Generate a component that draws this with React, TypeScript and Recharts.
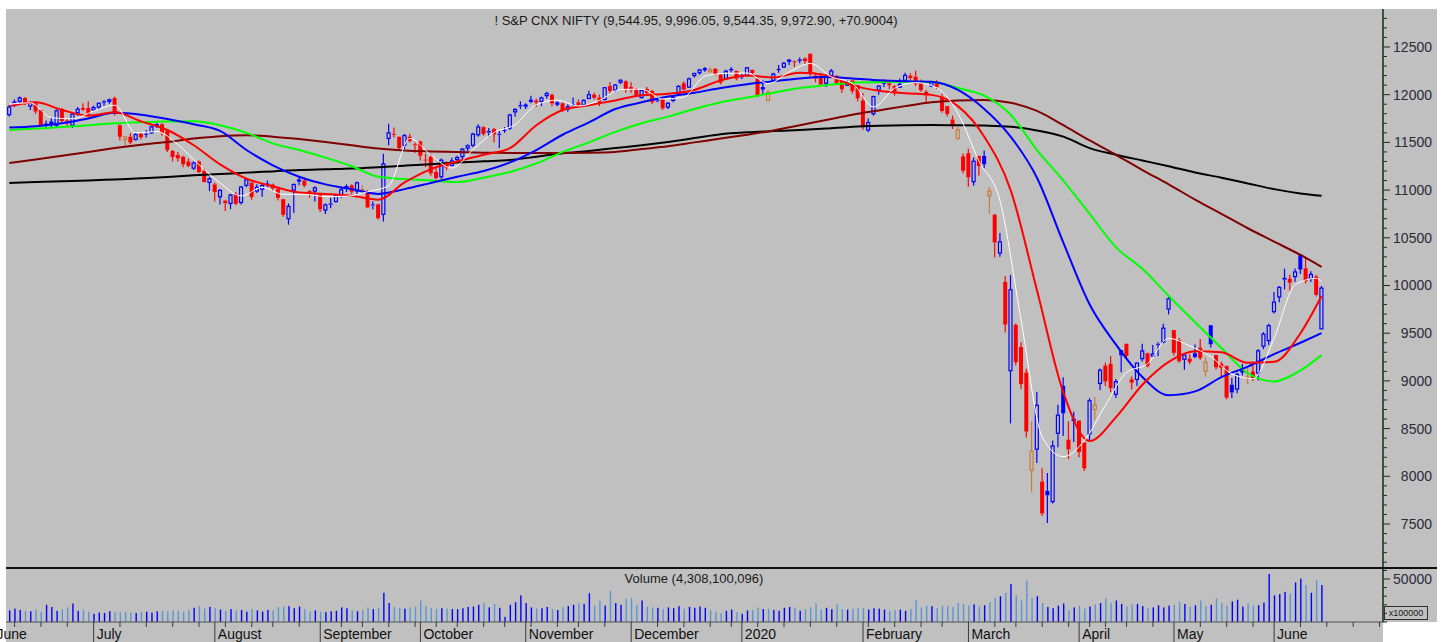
import React from 'react';
import { ComposedChart, Bar, Line, XAxis, YAxis } from 'recharts';

type OHLC = [number, number, number, number];

// ---- candles (open, high, low, close) by month ----
const candlesJun19: OHLC[] = [
  [11790, 11895, 11770, 11870], [11890, 11950, 11870, 11922], [11930, 11980, 11900, 11965], [11965, 11975, 11890, 11906],
  [11880, 11935, 11840, 11914], [11910, 11930, 11800, 11823], [11840, 11845, 11660, 11672], [11680, 11730, 11640, 11691],
  [11720, 11760, 11650, 11691], [11680, 11845, 11660, 11831], [11850, 11860, 11710, 11724], [11730, 11755, 11670, 11699],
  [11680, 11810, 11650, 11796], [11810, 11870, 11780, 11847], [11860, 11910, 11830, 11842], [11860, 11930, 11770, 11789],
];
const candlesJul19: OHLC[] = [
  [11840, 11885, 11830, 11865], [11870, 11915, 11840, 11910], [11930, 11945, 11885, 11916], [11930, 11960, 11905, 11946],
  [11965, 11980, 11780, 11811], [11680, 11690, 11520, 11558], [11530, 11570, 11460, 11555], [11560, 11595, 11480, 11498],
  [11530, 11600, 11520, 11582], [11590, 11600, 11530, 11552], [11590, 11630, 11550, 11588], [11600, 11670, 11590, 11663],
  [11670, 11700, 11650, 11687], [11690, 11700, 11570, 11597], [11625, 11640, 11400, 11419], [11410, 11420, 11300, 11346],
  [11370, 11400, 11300, 11332], [11350, 11360, 11240, 11271], [11300, 11330, 11240, 11253], [11230, 11300, 11210, 11284],
  [11300, 11310, 11180, 11189], [11200, 11230, 11080, 11085], [11080, 11140, 10990, 11118],
];
const candlesAug19: OHLC[] = [
  [11060, 11080, 10880, 10980], [10930, 11010, 10850, 10997], [10890, 10900, 10780, 10863], [10860, 10960, 10800, 10948],
  [10960, 10980, 10840, 10856], [10870, 11040, 10850, 11032], [11050, 11120, 11030, 11109], [11080, 11080, 10900, 10926],
  [10990, 11060, 10970, 11029], [11010, 11070, 10930, 11048], [11070, 11100, 11030, 11053], [11060, 11070, 10990, 11017],
  [11010, 11035, 10890, 10918], [10905, 10910, 10720, 10741], [10700, 10860, 10637, 10829], [11000, 11070, 10760, 11058],
  [11100, 11140, 11050, 11106], [11100, 11130, 11030, 11046], [10990, 11000, 10920, 10948], [10990, 11040, 10880, 11023],
];
const candlesSep19: OHLC[] = [
  [10960, 10970, 10770, 10798], [10790, 10860, 10750, 10845], [10860, 10920, 10810, 10847], [10880, 10960, 10870, 10947],
  [10940, 11030, 10920, 11003], [11030, 11060, 10980, 11036], [11050, 11060, 10960, 10982], [10990, 11090, 10950, 11076],
  [10990, 11050, 10970, 11004], [10990, 11000, 10810, 10818], [10850, 10880, 10800, 10841], [10850, 10860, 10690, 10705],
  [10746, 11382, 10670, 11274], [11542, 11695, 11471, 11600], [11590, 11655, 11550, 11588], [11560, 11560, 11420, 11441],
  [11470, 11590, 11430, 11571], [11560, 11590, 11500, 11512], [11480, 11500, 11390, 11474],
];
const candlesOct19: OHLC[] = [
  [11510, 11520, 11310, 11359], [11320, 11380, 11240, 11314], [11350, 11380, 11150, 11175], [11190, 11230, 11110, 11126],
  [11140, 11330, 11120, 11313], [11280, 11300, 11210, 11235], [11260, 11340, 11250, 11305], [11320, 11360, 11290, 11341],
  [11350, 11440, 11320, 11428], [11440, 11480, 11410, 11464], [11470, 11600, 11450, 11586], [11580, 11690, 11560, 11662],
  [11660, 11670, 11570, 11588], [11620, 11650, 11560, 11604], [11640, 11650, 11500, 11583], [11590, 11620, 11440, 11584],
  [11630, 11660, 11600, 11628], [11650, 11800, 11630, 11787], [11820, 11860, 11770, 11844], [11890, 11930, 11850, 11877],
];
const candlesNov19: OHLC[] = [
  [11890, 11910, 11850, 11891], [11930, 11990, 11910, 11941], [11940, 11960, 11870, 11917], [11930, 11980, 11880, 11966],
  [11990, 12030, 11960, 12012], [12000, 12010, 11880, 11908], [11900, 11930, 11880, 11913], [11910, 11920, 11820, 11840],
  [11850, 11900, 11820, 11872], [11900, 11970, 11880, 11895], [11920, 11950, 11870, 11884], [11890, 11950, 11880, 11940],
  [11960, 12040, 11960, 11999], [12000, 12020, 11950, 11968], [11970, 12000, 11880, 11914], [11950, 12080, 11940, 12073],
  [12090, 12130, 12010, 12037], [12050, 12110, 12030, 12101], [12130, 12160, 12110, 12151], [12140, 12150, 12020, 12056],
];
const candlesDec19: OHLC[] = [
  [12080, 12130, 12020, 12048], [12060, 12070, 11980, 11994], [11970, 12050, 11960, 12043], [12060, 12080, 11990, 12018],
  [12040, 12050, 11900, 11922], [11940, 11980, 11920, 11937], [11950, 11960, 11840, 11856], [11870, 11920, 11850, 11910],
  [11940, 11990, 11920, 11971], [12010, 12100, 12000, 12087], [12120, 12140, 12040, 12053], [12080, 12180, 12070, 12165],
  [12200, 12230, 12180, 12222], [12230, 12270, 12210, 12259], [12270, 12290, 12240, 12272], [12240, 12290, 12230, 12262],
  [12270, 12280, 12200, 12214], [12210, 12220, 12110, 12126], [12170, 12260, 12160, 12246], [12270, 12290, 12230, 12255],
  [12250, 12250, 12150, 12168],
];
const candlesJan20: OHLC[] = [
  [12200, 12220, 12165, 12182], [12200, 12290, 12190, 12282], [12260, 12265, 12190, 12227], [12170, 12180, 11975, 11993],
  [12080, 12150, 12010, 12053], [11940, 12050, 11930, 12025], [12150, 12230, 12140, 12216], [12270, 12310, 12230, 12257],
  [12290, 12340, 12280, 12330], [12350, 12375, 12310, 12362], [12350, 12360, 12290, 12343], [12370, 12390, 12330, 12355],
  [12380, 12390, 12320, 12352], [12430, 12430, 12193, 12224], [12200, 12230, 12130, 12170], [12200, 12225, 12090, 12106],
  [12120, 12190, 12080, 12180], [12200, 12270, 12190, 12248], [12200, 12200, 12100, 12119], [12150, 12160, 12020, 12055],
  [12100, 12150, 12090, 12129], [12150, 12150, 12010, 12036], [12100, 12100, 11930, 11962],
];
const candlesFeb20: OHLC[] = [
  [11940, 12017, 11633, 11662], [11630, 11750, 11610, 11708], [11800, 11990, 11780, 11980], [12050, 12100, 12000, 12090],
  [12120, 12160, 12080, 12138], [12120, 12130, 12060, 12098], [12090, 12100, 11990, 12032], [12080, 12170, 12070, 12108],
  [12150, 12230, 12150, 12202], [12200, 12225, 12140, 12175], [12190, 12250, 12090, 12113], [12130, 12160, 12030, 12046],
  [12030, 12050, 11910, 11993], [12090, 12140, 12080, 12126], [12120, 12150, 12060, 12080], [11980, 12010, 11810, 11829],
  [11880, 11880, 11770, 11798], [11740, 11780, 11640, 11678], [11540, 11660, 11530, 11633], [11354, 11384, 11175, 11202],
];
const candlesMar20: OHLC[] = [
  [11387, 11433, 11036, 11133], [11088, 11342, 11046, 11303], [11359, 11359, 11151, 11251], [11358, 11415, 11230, 11270],
  [10940, 11030, 10750, 10990], [10742, 10751, 10294, 10451], [10340, 10550, 10300, 10458], [10039, 10100, 9508, 9590],
  [9107, 10111, 8555, 9955], [9587, 9602, 9165, 9197], [9355, 9404, 8916, 8967], [9088, 9128, 8407, 8469],
  [8063, 8575, 7833, 8264], [8284, 8883, 8139, 8745], [7945, 8084, 7583, 7610], [7848, 8036, 7511, 7801],
  [7735, 8376, 7714, 8318], [8451, 8749, 8304, 8641], [8949, 9038, 8423, 8660], [8385, 8576, 8180, 8281],
  [8584, 8678, 8359, 8598],
];
const candlesApr20: OHLC[] = [
  [8584, 8588, 8199, 8253], [8356, 8356, 8055, 8084], [8446, 8819, 8360, 8792], [8700, 8830, 8590, 8748],
  [8973, 9131, 8904, 9112], [9160, 9190, 8946, 8994], [9180, 9260, 8880, 8925], [8860, 9020, 8820, 8992],
  [9323, 9324, 9091, 9267], [9390, 9390, 9230, 9262], [9016, 9045, 8909, 8981], [9015, 9191, 8946, 9187],
  [9233, 9390, 9203, 9314], [9290, 9296, 9141, 9154], [9260, 9377, 9250, 9282], [9389, 9404, 9260, 9380],
  [9408, 9599, 9392, 9553], [9753, 9890, 9697, 9860],
];
const candlesMay20: OHLC[] = [
  [9533, 9533, 9266, 9294], [9429, 9450, 9190, 9206], [9227, 9278, 9116, 9271], [9234, 9277, 9175, 9199],
  [9290, 9382, 9238, 9251], [9348, 9439, 9219, 9240], [9100, 9250, 9043, 9197], [9584, 9584, 9351, 9384],
  [9271, 9277, 9119, 9142], [9182, 9204, 9051, 9137], [9158, 9159, 8806, 8824], [8961, 9031, 8820, 8879],
  [8914, 9088, 8870, 9067], [9094, 9178, 9056, 9106], [9027, 9149, 8967, 9039], [9099, 9161, 9000, 9029],
  [9083, 9334, 9004, 9315], [9364, 9511, 9332, 9490], [9422, 9598, 9376, 9580],
];
const candlesJun20: OHLC[] = [
  [9726, 9931, 9706, 9826], [9880, 9995, 9824, 9980], [10081, 10177, 9959, 10061], [10072, 10112, 9945, 10029],
  [10093, 10177, 10040, 10142], [10326, 10328, 10120, 10167], [10181, 10291, 10022, 10046], [10072, 10148, 10036, 10116],
  [10094, 10112, 9885, 9902], [9544.95, 9996.05, 9544.35, 9972.9],
];

// ---- volume (x100000) by month ----
const volJun19 = [13500, 15500, 14000, 13000, 12500, 14500, 12000, 20000, 17500, 13000, 14500, 17000, 21500, 13000, 14000, 12000];
const volJul19 = [9500, 11000, 10500, 12500, 11500, 11500, 12000, 11000, 10500, 11500, 12000, 11000, 12500, 13000, 12500, 13500, 13000, 12000, 13500, 16500, 18500, 15500, 17500];
const volAug19 = [16000, 14500, 13000, 15000, 13500, 14000, 12000, 15000, 13500, 12000, 14000, 13500, 17500, 18000, 18500, 16000, 18000, 15000, 12000, 13500];
const volSep19 = [12000, 11500, 12500, 13000, 17000, 16000, 13500, 12500, 14000, 17000, 15000, 16500, 34000, 22000, 17500, 16500, 15500, 17000, 18000];
const volOct19 = [25000, 18500, 16500, 15000, 16000, 15500, 15000, 15000, 16000, 17500, 18000, 20000, 22000, 17000, 21000, 16500, 6000, 20000, 23000, 31000];
const volNov19 = [22000, 17000, 15500, 16000, 17500, 15000, 14000, 17000, 18500, 20000, 22000, 21000, 33500, 19000, 25000, 19000, 36500, 22000, 20000, 27000];
const volDec19 = [28000, 20000, 25000, 18000, 17000, 16500, 15000, 17000, 16000, 18500, 15500, 17500, 16500, 18000, 16500, 14000, 12000, 10000, 13000, 14500, 11500];
const volJan20 = [9500, 13500, 14000, 16500, 15000, 15500, 14000, 13000, 16500, 17500, 16500, 13000, 15000, 17000, 21500, 14500, 16500, 15000, 20500, 15000, 14500, 15500, 16000];
const volFeb20 = [16000, 14500, 16000, 15500, 14500, 13000, 14000, 14500, 13000, 15000, 25500, 17000, 19000, 18500, 16000, 19000, 18500, 17500, 22000, 21000];
const volMar20 = [19000, 20500, 18500, 19500, 23000, 28000, 30000, 34000, 44000, 31000, 25000, 48000, 28000, 30000, 22000, 17500, 16000, 19000, 21500, 13500, 17000];
const volApr20 = [19000, 15500, 18000, 20500, 22000, 27500, 22000, 25000, 21000, 18000, 20500, 21000, 18500, 16000, 17000, 19500, 17000, 19000];
const volMay20 = [20000, 23500, 21000, 17500, 19500, 25000, 18500, 20000, 27500, 22000, 19000, 24000, 26000, 18000, 21500, 19000, 19500, 22500, 56000];
const volJun20 = [31000, 32500, 35000, 33000, 46000, 50500, 43000, 34000, 48500, 43081];

// ---- moving averages, read at every 5th bar (+ last) ----
const maIdx = [0, 5, 10, 15, 20, 25, 30, 35, 40, 45, 50, 55, 60, 65, 70, 75, 80, 85, 90, 95, 100, 105, 110, 115, 120, 125, 130, 135, 140, 145, 150, 155, 160, 165, 170, 175, 180, 185, 190, 195, 200, 205, 210, 215, 220, 225, 230, 235, 240, 245, 249];
const maBlack = [11075, 11085, 11092, 11100, 11112, 11124, 11138, 11155, 11168, 11183, 11196, 11210, 11218, 11226, 11240, 11256, 11272, 11288, 11302, 11315, 11350, 11385, 11410, 11440, 11470, 11505, 11545, 11585, 11605, 11618, 11630, 11645, 11665, 11675, 11680, 11682, 11680, 11676, 11665, 11625, 11560, 11440, 11370, 11310, 11250, 11185, 11130, 11070, 11010, 10965, 10940];
const maBrown = [11284, 11320, 11360, 11400, 11440, 11475, 11505, 11540, 11565, 11575, 11560, 11535, 11505, 11470, 11435, 11415, 11405, 11398, 11392, 11390, 11390, 11390, 11392, 11400, 11430, 11460, 11500, 11540, 11580, 11625, 11680, 11735, 11790, 11835, 11880, 11920, 11940, 11945, 11915, 11830, 11680, 11520, 11370, 11210, 11060, 10900, 10750, 10600, 10460, 10320, 10195];
const maGreen = [11630, 11645, 11660, 11680, 11700, 11712, 11720, 11722, 11680, 11600, 11490, 11420, 11340, 11250, 11140, 11115, 11100, 11085, 11130, 11190, 11280, 11400, 11500, 11610, 11700, 11770, 11850, 11920, 11970, 12020, 12070, 12100, 12125, 12133, 12135, 12132, 12070, 11990, 11790, 11420, 11100, 10750, 10400, 10175, 9890, 9615, 9345, 9080, 8995, 9110, 9270];
const maBlue = [11655, 11670, 11700, 11750, 11810, 11790, 11745, 11690, 11620, 11420, 11260, 11140, 11060, 11010, 10960, 11010, 11075, 11140, 11200, 11290, 11420, 11580, 11710, 11850, 11920, 11980, 12020, 12070, 12110, 12140, 12170, 12185, 12170, 12150, 12140, 12135, 12050, 11850, 11560, 11130, 10450, 9800, 9380, 9040, 8850, 8890, 9040, 9150, 9280, 9400, 9500];
const maRed = [11880, 11920, 11840, 11780, 11815, 11720, 11630, 11470, 11270, 11120, 11040, 10975, 10960, 10940, 10900, 11080, 11220, 11300, 11370, 11440, 11680, 11840, 11890, 11940, 11995, 12010, 12050, 12150, 12200, 12180, 12230, 12205, 12100, 12040, 12015, 11998, 11880, 11560, 11000, 9950, 8880, 8370, 8620, 8960, 9200, 9310, 9300, 9190, 9200, 9500, 9890];
// white (fast) average, read at every 4th bar (+ last)
const whiteIdx = [0, 4, 8, 12, 16, 20, 24, 28, 32, 36, 40, 44, 48, 52, 56, 60, 64, 68, 72, 76, 80, 84, 88, 92, 96, 100, 104, 108, 112, 116, 120, 124, 128, 132, 136, 140, 144, 148, 152, 156, 160, 164, 168, 172, 176, 180, 184, 188, 192, 196, 200, 204, 208, 212, 216, 220, 224, 228, 232, 236, 240, 244, 248, 249];
const maWhite = [11900, 11915, 11758, 11748, 11828, 11890, 11601, 11614, 11476, 11266, 11074, 10939, 11029, 10955, 10956, 10932, 10936, 10983, 11048, 11542, 11367, 11231, 11425, 11605, 11685, 11894, 11943, 11881, 11941, 12055, 12058, 11955, 11975, 12194, 12224, 12227, 12116, 12238, 12327, 12186, 12117, 11870, 12068, 12126, 12072, 11804, 11304, 10884, 9633, 8411, 8206, 8375, 8746, 9088, 9180, 9446, 9366, 9254, 9073, 9024, 9448, 10008, 10075, 10041];

// ---- axis labels ----
const monthLabels = ['June', 'July', 'August', 'September', 'October', 'November', 'December', '2020', 'February', 'March', 'April', 'May', 'June'];
const monthStarts = [-3, 16, 39, 59, 78, 98, 118, 139, 162, 182, 203, 221, 240];
const weekStarts = [1, 6, 11, 16, 21, 26, 31, 36, 41, 46, 50, 55, 59, 63, 67, 72, 77, 81, 85, 90, 94, 99, 104, 108, 113, 118, 123, 128, 133, 137, 142, 147, 152, 157, 163, 168, 173, 177, 182, 187, 191, 196, 201, 205, 208, 212, 217, 221, 226, 231, 236, 240, 245, 250, 255, 260];
const priceLabels = [7500, 8000, 8500, 9000, 9500, 10000, 10500, 11000, 11500, 12000, 12500];
const volLabels = [50000];
const TITLE = '! S&P CNX NIFTY (9,544.95, 9,996.05, 9,544.35, 9,972.90, +70.9004)';
const VOL_TITLE = 'Volume (4,308,100,096)';

// ---- build table ----
const allCandles: OHLC[] = [
  ...candlesJun19, ...candlesJul19, ...candlesAug19, ...candlesSep19, ...candlesOct19, ...candlesNov19,
  ...candlesDec19, ...candlesJan20, ...candlesFeb20, ...candlesMar20, ...candlesApr20, ...candlesMay20, ...candlesJun20,
];
const allVol: number[] = [
  ...volJun19, ...volJul19, ...volAug19, ...volSep19, ...volOct19, ...volNov19, ...volDec19,
  ...volJan20, ...volFeb20, ...volMar20, ...volApr20, ...volMay20, ...volJun20,
];
const rows: any[] = allCandles.map((k, i) => ({
  i,
  o: k[0], h: k[1], l: k[2], c: k[3],
  pc: i > 0 ? allCandles[i - 1][3] : k[0],
  range: [k[2], k[1]],
  vol: allVol[i],
}));
const put = (idx: number[], vals: number[], key: string) => idx.forEach((ix, n) => { if (rows[ix]) rows[ix][key] = vals[n]; });
put(maIdx, maBlack, 'black');
put(maIdx, maBrown, 'brown');
put(maIdx, maGreen, 'green');
put(maIdx, maBlue, 'blue');
put(maIdx, maRed, 'red');
put(whiteIdx, maWhite, 'white');

const priceTicks: number[] = [];
for (let v = 7100; v <= 12800; v += 100) priceTicks.push(v);
const volTicks = [0, 10000, 20000, 30000, 40000, 50000, 60000];
const xTicks = Array.from(new Set([...monthStarts, ...weekStarts])).sort((a, b) => a - b);

// ---- styling ----
const FONT = "'Liberation Sans', Arial, Helvetica, sans-serif";
const GREY = '#c0c0c0';
const BLUE = '#0000ff';
const RED = '#ff0000';
const BROWN = '#c87a3a';
const VOL_UP = '#0000ff';
const VOL_DN = '#5a96d2';
const AXIS = '#1e2a1e';
const TEXT = '#2a2a3a';
const CHART_W = 1437;
const XDOMAIN: [number, number] = [-0.63, 260.66];

const Candle = (props: any) => {
  const { x, y, width, height, payload } = props;
  if (!payload || x == null || y == null) return null;
  const { o, h, l, c, pc } = payload;
  const top = Math.min(y, y + height);
  const span = Math.abs(height);
  const k = h > l ? span / (h - l) : 0;
  const yv = (v: number) => top + (h - v) * k;
  const cx = x + width / 2;
  const hollow = c >= o;
  const color = c >= pc ? BLUE : hollow ? BROWN : RED;
  const bTop = yv(Math.max(o, c));
  const bh = Math.max(yv(Math.min(o, c)) - bTop, 1);
  const bw = 4;
  return (
    <g>
      <line x1={cx} x2={cx} y1={top} y2={bTop} stroke={color} strokeWidth={1.2} />
      <line x1={cx} x2={cx} y1={bTop + bh} y2={top + span} stroke={color} strokeWidth={1.2} />
      {hollow ? (
        <rect x={cx - bw / 2 + 0.5} y={bTop} width={bw - 1} height={bh} fill="none" stroke={color} strokeWidth={1.2} />
      ) : (
        <rect x={cx - bw / 2} y={bTop} width={bw} height={bh} fill={color} />
      )}
    </g>
  );
};

const VolBar = (props: any) => {
  const { x, y, width, height, payload } = props;
  if (!payload || x == null) return null;
  const cx = x + width / 2;
  const col = payload.c >= payload.pc ? VOL_UP : VOL_DN;
  return <rect x={cx - 0.7} y={y} width={1.4} height={Math.max(height, 0)} fill={col} />;
};

const PriceTick = (props: any) => {
  const { x, y, payload } = props;
  const v = payload.value as number;
  const major = priceLabels.includes(v);
  return (
    <g>
      <line x1={x} y1={y} x2={x + (major ? 7 : 4)} y2={y} stroke={AXIS} strokeWidth={1} />
      {major && (
        <text x={x + 49} y={y} dy={5} textAnchor="end" fontSize={14} fill={TEXT} fontFamily={FONT}>{v}</text>
      )}
    </g>
  );
};

const VolTick = (props: any) => {
  const { x, y, payload } = props;
  const v = payload.value as number;
  const major = volLabels.includes(v);
  return (
    <g>
      <line x1={x} y1={y} x2={x + (major ? 7 : 4)} y2={y} stroke={AXIS} strokeWidth={1} />
      {major && (
        <text x={x + 49} y={y} dy={5} textAnchor="end" fontSize={14} fill={TEXT} fontFamily={FONT}>{v}</text>
      )}
    </g>
  );
};

const XTick = (props: any) => {
  const { x, y, payload } = props;
  const v = payload.value as number;
  const m = monthStarts.indexOf(v);
  if (m >= 0) {
    return (
      <g>
        <line x1={x} y1={y} x2={x} y2={y + 20} stroke="#3a3a3a" strokeWidth={1} />
        <text x={x + 3} y={y + 17} fontSize={14} fill="#101010" fontFamily={FONT}>{monthLabels[m]}</text>
      </g>
    );
  }
  return <line x1={x} y1={y} x2={x} y2={y + 5} stroke="#3a3a3a" strokeWidth={1} />;
};

export default function App() {
  return (
    <div style={{ position: 'absolute', left: 0, top: 0, width: 1451, height: 642, background: '#ffffff', fontFamily: FONT, overflow: 'hidden' }}>
      <div style={{ position: 'absolute', left: 6, top: 9, width: 1431, height: 613, background: GREY }} />
      <div style={{ position: 'absolute', left: 6, top: 622, width: 1377, height: 20, background: GREY }} />

      <div style={{ position: 'absolute', left: 0, top: 9 }}>
        <ComposedChart width={CHART_W} height={559} data={rows} margin={{ top: 0, right: 0, bottom: 0, left: 6 }}>
          <XAxis type="number" dataKey="i" domain={XDOMAIN} allowDataOverflow hide />
          <YAxis
            yAxisId="p"
            orientation="right"
            type="number"
            domain={[7039, 12898]}
            allowDataOverflow
            ticks={priceTicks}
            interval={0}
            width={54}
            tickSize={0}
            tickMargin={0}
            tickLine={false}
            axisLine={{ stroke: AXIS, strokeWidth: 1.5 }}
            tick={<PriceTick />}
          />
          <Bar yAxisId="p" dataKey="range" barSize={5} isAnimationActive={false} shape={(p: any) => <Candle {...p} />} />
          <Line yAxisId="p" dataKey="black" stroke="#000000" strokeWidth={2} dot={false} activeDot={false} connectNulls type="monotone" isAnimationActive={false} />
          <Line yAxisId="p" dataKey="brown" stroke="#800000" strokeWidth={2} dot={false} activeDot={false} connectNulls type="monotone" isAnimationActive={false} />
          <Line yAxisId="p" dataKey="green" stroke="#00ff00" strokeWidth={2} dot={false} activeDot={false} connectNulls type="monotone" isAnimationActive={false} />
          <Line yAxisId="p" dataKey="blue" stroke="#0000ff" strokeWidth={2} dot={false} activeDot={false} connectNulls type="monotone" isAnimationActive={false} />
          <Line yAxisId="p" dataKey="red" stroke="#ff0000" strokeWidth={2} dot={false} activeDot={false} connectNulls type="monotone" isAnimationActive={false} />
          <Line yAxisId="p" dataKey="white" stroke="#ffffff" strokeWidth={1} dot={false} activeDot={false} connectNulls type="monotone" isAnimationActive={false} />
        </ComposedChart>
      </div>

      <div style={{ position: 'absolute', left: 0, top: 568 }}>
        <ComposedChart width={CHART_W} height={74} data={rows} margin={{ top: 1, right: 0, bottom: 0, left: 6 }}>
          <XAxis
            type="number"
            dataKey="i"
            domain={XDOMAIN}
            allowDataOverflow
            ticks={xTicks}
            interval={0}
            height={20}
            tickSize={0}
            tickMargin={0}
            tickLine={false}
            axisLine={{ stroke: '#505050', strokeWidth: 1 }}
            tick={<XTick />}
          />
          <YAxis
            yAxisId="v"
            orientation="right"
            type="number"
            domain={[0, 61628]}
            allowDataOverflow
            ticks={volTicks}
            interval={0}
            width={54}
            tickSize={0}
            tickMargin={0}
            tickLine={false}
            axisLine={{ stroke: AXIS, strokeWidth: 1.5 }}
            tick={<VolTick />}
          />
          <Bar yAxisId="v" dataKey="vol" barSize={2} isAnimationActive={false} shape={(p: any) => <VolBar {...p} />} />
        </ComposedChart>
      </div>

      <div style={{ position: 'absolute', left: 6, top: 567, width: 1431, height: 2, background: '#101010' }} />

      <div style={{ position: 'absolute', left: 396, top: 13, width: 600, textAlign: 'center', fontSize: 13, lineHeight: '16px', color: '#1a1a1a', whiteSpace: 'nowrap' }}>{TITLE}</div>
      <div style={{ position: 'absolute', left: 494, top: 571, width: 400, textAlign: 'center', fontSize: 13, lineHeight: '16px', color: '#1a1a1a', whiteSpace: 'nowrap' }}>{VOL_TITLE}</div>
      <div style={{ position: 'absolute', left: 1384, top: 606, width: 42, height: 12, border: '1px solid #303030', fontSize: 9, lineHeight: '12px', color: '#1a1a1a', textAlign: 'center', whiteSpace: 'nowrap', overflow: 'hidden' }}>x100000</div>
    </div>
  );
}
